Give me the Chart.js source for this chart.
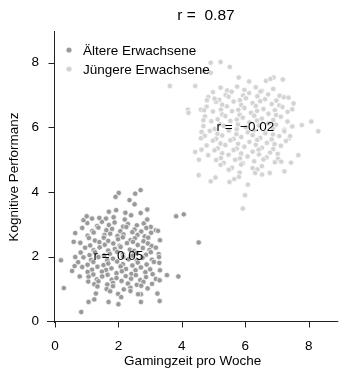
<!DOCTYPE html>
<html>
<head>
<meta charset="utf-8">
<script src="https://cdn.jsdelivr.net/npm/chart.js@4"></script>
<style>
  html, body { margin: 0; padding: 0; background: #fff; }
  canvas { display: block; }
</style>
</head>
<body>
<canvas id="chart" width="343" height="369"></canvas>
<script>
// Ältere Erwachsene (older adults)
const olderX = [
  1.02, 1.33, 1.48, 1.70, 1.88, 2.15, 2.30, 2.58, 2.80, 3.02,
  0.86, 1.18, 1.37, 1.62, 1.80, 2.06, 2.25, 2.51, 2.72, 2.88, 3.18,
  0.64, 1.03, 1.22, 1.56, 1.74, 1.97, 2.16, 2.44, 2.60, 2.83, 3.03,
  1.07, 1.26, 1.54, 1.68, 1.99, 2.14, 2.38, 2.52, 2.79, 2.94,
  0.80, 1.11, 1.40, 1.57, 1.84, 2.04, 2.27, 2.46, 2.61, 2.93, 3.05,
  0.95, 1.22, 1.41, 1.68, 1.89, 2.07, 2.36, 2.50, 2.77, 2.98,
  0.81, 1.09, 1.26, 1.55, 1.73, 1.96, 2.14, 2.44, 2.58, 2.87, 3.02, 3.27,
  0.90, 1.14, 1.37, 1.65, 1.83, 2.15, 2.32, 2.58, 2.76, 3.06, 3.28,
  0.73, 1.03, 1.21, 1.53, 1.68, 1.96, 2.14, 2.44, 2.61, 2.89, 3.12,
  0.86, 1.17, 1.34, 1.61, 1.78, 2.07, 2.24, 2.54, 2.71, 3.00,
  1.03, 1.21, 1.48, 1.66, 1.94, 2.11, 2.41, 2.55, 2.85, 3.08,
  1.06, 1.32, 1.49, 1.79, 1.94, 2.23, 2.40, 2.69, 2.87, 3.18,
  1.05, 1.24, 1.37, 1.65, 1.83, 2.10, 2.30, 2.58, 2.79, 3.06,
  1.34, 1.63, 1.83, 2.17, 2.38, 2.72, 2.92,
  1.74, 1.99, 2.38, 2.71,
  0.19, 0.28, 0.83, 0.54, 0.62, 0.78, 0.64, 0.59, 0.9, 1.0, 1.17,
  1.06, 1.24, 1.29, 1.69, 2.0, 2.09, 2.62, 2.71, 3.3, 3.23,
  3.3, 3.53, 3.89, 3.31, 3.29, 3.31, 3.25, 3.18, 2.91, 2.91,
  2.7, 2.51, 2.35, 2.7, 2.53, 2.01, 1.91, 3.82, 4.06, 4.53,
  2.22, 1.93, 1.7, 1.61, 1.4, 1.85, 2.4, 2.2
];
const olderY = [
  3.04, 2.95, 3.08, 2.98, 3.06, 2.93, 3.01, 2.97, 3.03, 2.92,
  2.89, 2.80, 2.90, 2.82, 2.86, 2.79, 2.92, 2.84, 2.78, 2.89, 2.82,
  2.73, 2.65, 2.75, 2.67, 2.71, 2.64, 2.69, 2.76, 2.67, 2.63, 2.74,
  2.58, 2.50, 2.59, 2.49, 2.54, 2.60, 2.51, 2.57, 2.48, 2.59,
  2.43, 2.35, 2.45, 2.37, 2.41, 2.34, 2.42, 2.46, 2.36, 2.41, 2.33,
  2.28, 2.20, 2.29, 2.19, 2.24, 2.30, 2.22, 2.18, 2.27, 2.21,
  2.13, 2.05, 2.14, 2.04, 2.09, 2.15, 2.07, 2.03, 2.12, 2.06, 2.14, 2.08,
  1.98, 1.90, 1.99, 1.89, 1.94, 2.00, 1.92, 1.88, 1.97, 1.91, 1.99,
  1.83, 1.75, 1.84, 1.74, 1.79, 1.85, 1.77, 1.73, 1.82, 1.76, 1.84,
  1.68, 1.60, 1.69, 1.59, 1.64, 1.70, 1.62, 1.58, 1.67, 1.61,
  1.53, 1.45, 1.54, 1.44, 1.49, 1.55, 1.47, 1.43, 1.52, 1.46,
  1.38, 1.30, 1.39, 1.29, 1.34, 1.40, 1.32, 1.28, 1.37, 1.31,
  1.23, 1.15, 1.24, 1.14, 1.19, 1.25, 1.17, 1.13, 1.22, 1.16,
  1.08, 1.00, 1.09, 0.99, 1.04, 1.10, 1.02,
  0.93, 0.85, 0.94, 0.84,
  1.89, 1.03, 0.29, 1.56, 1.71, 1.39, 1.99, 2.46, 3.13, 3.25, 3.18,
  0.6, 0.68, 0.86, 0.6, 0.53, 0.75, 0.84, 0.6, 0.63, 0.86,
  1.27, 1.43, 1.39, 1.58, 1.81, 2.51, 2.8, 2.28, 3.15, 3.46,
  3.35, 3.62, 3.75, 4.06, 3.95, 3.97, 3.85, 3.25, 3.31, 2.44,
  3.36, 3.44, 3.39, 3.18, 3.2, 3.22, 3.28, 3.15
];

// Jüngere Erwachsene (younger adults)
const youngerX = [
  5.22, 5.43, 5.74, 5.97, 6.33, 6.52, 6.88,
  4.98, 5.38, 5.57, 5.93, 6.12, 6.48, 6.72, 7.08,
  4.83, 5.18, 5.47, 5.83, 6.02, 6.38, 6.62, 6.98, 7.22,
  5.08, 5.27, 5.63, 5.87, 6.23, 6.47, 6.83, 7.07,
  4.78, 5.23, 5.42, 5.78, 5.97, 6.33, 6.57, 6.93, 7.17, 7.48,
  4.98, 5.27, 5.58, 5.82, 6.18, 6.37, 6.73, 6.97, 7.33,
  4.73, 5.13, 5.37, 5.73, 5.92, 6.28, 6.52, 6.88, 7.12,
  4.93, 5.22, 5.53, 5.77, 6.13, 6.37, 6.73, 6.97, 7.33,
  4.68, 5.03, 5.32, 5.73, 6.02, 6.43, 6.87, 7.23, 7.48,
  4.88, 5.12, 5.48, 5.72, 6.08, 6.27, 6.63, 6.87, 7.23,
  4.72, 5.08, 5.27, 5.63, 5.87, 6.23, 6.47, 6.83, 7.07, 7.38,
  4.98, 5.22, 5.53, 5.77, 6.13, 6.37, 6.68, 6.92, 7.28,
  4.78, 5.13, 5.37, 5.73, 5.97, 6.33, 6.52, 6.88, 7.12,
  5.03, 5.27, 5.63, 5.87, 6.23, 6.42, 6.78, 7.02,
  4.83, 5.23, 5.47, 5.83, 6.07, 6.43, 6.67, 7.03,
  5.08, 5.32, 5.68, 5.92, 6.28, 6.57, 6.93,
  5.22, 5.58, 5.87, 6.23, 6.52,
  5.48, 5.82, 6.38, 6.77,
  4.91, 5.22, 5.51, 3.62, 4.42, 4.19, 4.21, 4.91, 4.7, 5.79,
  6.12, 6.65, 6.89, 6.79, 7.18, 7.36, 7.52, 7.78, 8.08, 8.3,
  7.41, 7.67, 7.44, 7.23, 7.13, 6.53, 6.31, 5.99, 5.92, 6.08,
  5.8, 5.5, 5.65, 5.06, 4.91, 4.53, 4.54, 4.42, 4.62, 4.6,
  4.62, 4.68, 4.6, 4.79, 5.03, 4.7
];
const youngerY = [
  7.23, 7.14, 7.26, 7.16, 7.24, 7.13, 7.19,
  7.09, 7.00, 7.10, 6.99, 7.06, 7.11, 7.02, 6.98,
  6.94, 6.85, 6.95, 6.84, 6.90, 6.96, 6.87, 6.83, 6.93,
  6.79, 6.70, 6.80, 6.69, 6.75, 6.81, 6.72, 6.68,
  6.64, 6.55, 6.65, 6.54, 6.60, 6.66, 6.57, 6.53, 6.63, 6.56,
  6.49, 6.40, 6.50, 6.39, 6.45, 6.51, 6.42, 6.38, 6.48,
  6.34, 6.25, 6.35, 6.24, 6.30, 6.36, 6.27, 6.23, 6.33,
  6.19, 6.10, 6.20, 6.09, 6.15, 6.21, 6.12, 6.08, 6.18,
  6.04, 5.95, 6.05, 5.94, 6.00, 6.06, 5.97, 5.93, 6.03,
  5.89, 5.80, 5.90, 5.79, 5.85, 5.91, 5.82, 5.78, 5.88,
  5.74, 5.65, 5.75, 5.64, 5.70, 5.76, 5.67, 5.63, 5.73, 5.66,
  5.59, 5.50, 5.60, 5.49, 5.55, 5.61, 5.52, 5.48, 5.58,
  5.44, 5.35, 5.45, 5.34, 5.40, 5.46, 5.37, 5.33, 5.43,
  5.29, 5.20, 5.30, 5.19, 5.25, 5.31, 5.22, 5.18,
  5.14, 5.05, 5.15, 5.04, 5.10, 5.16, 5.07, 5.03,
  4.99, 4.90, 5.00, 4.89, 4.95, 5.01, 4.92,
  4.84, 4.75, 4.85, 4.74, 4.80,
  4.69, 4.60, 4.70, 4.59,
  8.0, 8.02, 7.87, 7.28, 7.28, 6.55, 6.45, 7.69, 7.74, 7.54,
  7.42, 7.44, 7.54, 7.5, 7.48, 6.92, 6.74, 6.07, 6.18, 5.88,
  5.73, 5.14, 4.91, 4.64, 4.94, 4.54, 4.59, 3.9, 3.49, 4.23,
  4.47, 4.31, 4.4, 4.45, 4.33, 4.52, 5.0, 5.24, 5.31, 5.66,
  5.86, 6.22, 6.55, 6.84, 6.89, 6.53
];

const xTicks = [0, 2, 4, 6, 8];
const yTicks = [0, 2, 4, 6, 8];
const seriesNames = ['Ältere Erwachsene', 'Jüngere Erwachsene'];
const seriesColors = ['#999999', '#d3d3d3'];
const rLabels = ['r =  0.05', 'r =  \u22120.02'];
const rLabelPos = [[2.0, 2.0], [6.0, 6.0]];
const titleText = 'r =  0.87';

const FONT = '"Liberation Sans", Arial, Helvetica, sans-serif';

function toPoints(xs, ys) {
  return xs.map((x, i) => ({ x: x, y: ys[i] }));
}

const decorations = {
  id: 'decorations',
  afterDatasetsDraw(chart) {
    const ctx = chart.ctx;
    const xs = chart.scales.x;
    const ys = chart.scales.y;
    const x0 = xs.getPixelForValue(0);
    const y0 = ys.getPixelForValue(0);

    ctx.save();
    ctx.strokeStyle = '#222';
    ctx.lineWidth = 1;
    // axis lines
    ctx.beginPath();
    ctx.moveTo(Math.round(x0) - 0.5, ys.top);
    ctx.lineTo(Math.round(x0) - 0.5, ys.bottom);
    ctx.moveTo(xs.left, Math.round(y0) + 0.5);
    ctx.lineTo(xs.right, Math.round(y0) + 0.5);
    // tick marks
    xTicks.forEach(v => {
      const px = Math.round(xs.getPixelForValue(v)) + 0.5;
      ctx.moveTo(px, Math.round(y0) + 0.5);
      ctx.lineTo(px, Math.round(y0) + 6.5);
    });
    yTicks.forEach(v => {
      const py = Math.round(ys.getPixelForValue(v)) + 0.5;
      ctx.moveTo(Math.round(x0) - 0.5, py);
      ctx.lineTo(Math.round(x0) - 6.5, py);
    });
    ctx.stroke();

    // correlation labels
    ctx.fillStyle = '#000';
    ctx.font = '13.5px ' + FONT;
    ctx.textAlign = 'center';
    ctx.textBaseline = 'middle';
    rLabels.forEach((t, i) => {
      ctx.fillText(t, xs.getPixelForValue(rLabelPos[i][0]), ys.getPixelForValue(rLabelPos[i][1]));
    });

    // title
    ctx.font = '15.5px ' + FONT;
    ctx.fillText(titleText, 206, 16);

    // legend
    ctx.font = '13.5px ' + FONT;
    ctx.textAlign = 'left';
    seriesNames.forEach((name, i) => {
      const ly = 50 + i * 19;
      ctx.beginPath();
      ctx.fillStyle = seriesColors[i];
      ctx.arc(69, ly, 2.6, 0, Math.PI * 2);
      ctx.fill();
      ctx.fillStyle = '#000';
      ctx.fillText(name, 83, ly + 1);
    });
    ctx.restore();
  }
};

new Chart(document.getElementById('chart'), {
  type: 'scatter',
  data: {
    datasets: [
      {
        label: seriesNames[0],
        data: toPoints(olderX, olderY),
        backgroundColor: seriesColors[0],
        borderColor: '#ffffff',
        borderWidth: 0.7,
        pointRadius: 2.7
      },
      {
        label: seriesNames[1],
        data: toPoints(youngerX, youngerY),
        backgroundColor: seriesColors[1],
        borderColor: '#ffffff',
        borderWidth: 0.7,
        pointRadius: 2.7
      }
    ]
  },
  options: {
    responsive: false,
    animation: false,
    devicePixelRatio: 1,
    layout: { padding: { top: 31, right: 0, left: 0, bottom: 0 } },
    plugins: {
      legend: { display: false },
      tooltip: { enabled: false },
      title: { display: false }
    },
    scales: {
      x: {
        type: 'linear',
        min: -0.25,
        max: 8.93,
        grid: { display: false, drawTicks: false },
        border: { display: false },
        afterBuildTicks: s => { s.ticks = xTicks.map(v => ({ value: v })); },
        afterFit: s => { s.height = 46; },
        ticks: {
          padding: 15,
          color: '#000',
          font: { family: FONT, size: 13.5 },
          maxRotation: 0
        },
        title: {
          display: true,
          text: 'Gamingzeit pro Woche',
          color: '#000',
          font: { family: FONT, size: 13.5 },
          padding: { top: 0, bottom: 0 }
        }
      },
      y: {
        type: 'linear',
        min: -0.05,
        max: 8.98,
        grid: { display: false, drawTicks: false },
        border: { display: false },
        afterBuildTicks: s => { s.ticks = yTicks.map(v => ({ value: v })); },
        afterFit: s => { s.width = 47; },
        ticks: {
          padding: 8,
          color: '#000',
          font: { family: FONT, size: 13.5 }
        },
        title: {
          display: true,
          text: 'Kognitive Performanz',
          color: '#000',
          font: { family: FONT, size: 13.5 },
          padding: { top: 6, bottom: 0 }
        }
      }
    }
  },
  plugins: [decorations]
});
</script>
</body>
</html>
